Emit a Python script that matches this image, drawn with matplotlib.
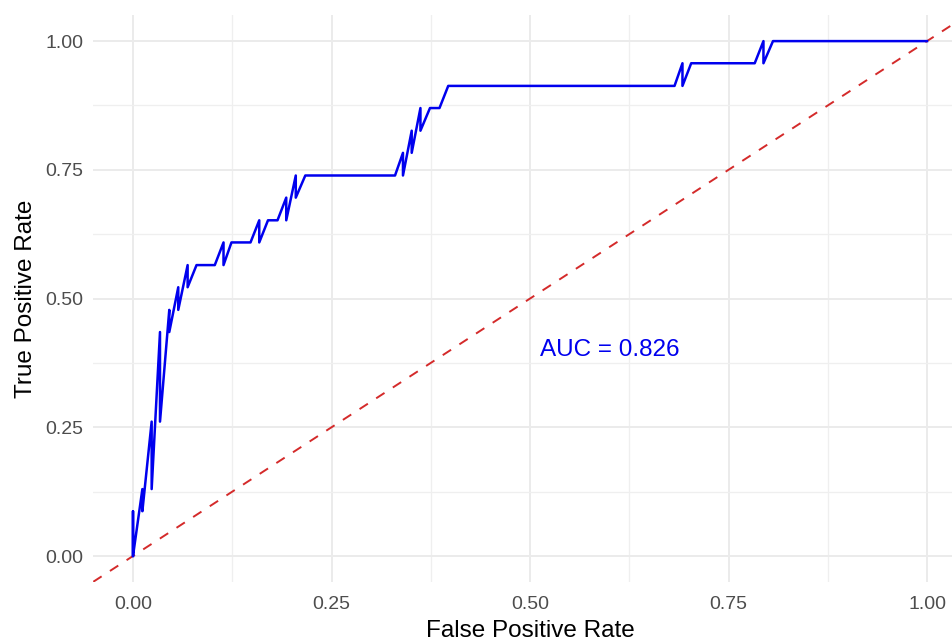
import matplotlib.pyplot as plt
from matplotlib.ticker import MultipleLocator

plt.rcParams["font.family"] = ["Liberation Sans", "DejaVu Sans"]

# ROC curve vertices, in drawing order
fpr = [0.0, 0.0, 0.0, 0.0118, 0.0118, 0.0235, 0.0235, 0.034, 0.034,
       0.0457, 0.0457, 0.057, 0.057, 0.0688, 0.0688, 0.080, 0.103, 0.114,
       0.114, 0.124, 0.148, 0.159, 0.159, 0.170, 0.182, 0.193, 0.193,
       0.205, 0.205, 0.217, 0.330, 0.340, 0.340, 0.351, 0.351, 0.362,
       0.362, 0.374, 0.386, 0.397, 0.682, 0.692, 0.692, 0.703, 0.783,
       0.794, 0.794, 0.806, 1.0]
tpr = [0.0, 0.087, 0.0, 0.130, 0.087, 0.261, 0.130, 0.435, 0.261,
       0.478, 0.435, 0.522, 0.478, 0.565, 0.522, 0.565, 0.565, 0.609,
       0.565, 0.609, 0.609, 0.652, 0.609, 0.652, 0.652, 0.696, 0.652,
       0.739, 0.696, 0.739, 0.739, 0.783, 0.739, 0.826, 0.783, 0.870,
       0.826, 0.870, 0.870, 0.913, 0.913, 0.957, 0.913, 0.957, 0.957,
       1.0, 0.957, 1.0, 1.0]
auc = 0.826

fig = plt.figure(figsize=(9.53, 6.4), dpi=100)
ax = fig.add_axes([0.0979, 0.091, 0.9165, 0.885])

ax.plot(fpr, tpr, color="#0000EE", lw=1.8, zorder=3)
ax.axline((0, 0), slope=1, color="#D42A2A", lw=1.4, dashes=(5.1, 5.1), zorder=2)
ax.text(0.6, 0.4, f"AUC = {auc:.3f}", color="#0000EE", fontsize=17.5,
        ha="center", va="center")

ax.set_xlim(-0.05, 1.05)
ax.set_ylim(-0.05, 1.05)
ax.xaxis.set_major_locator(MultipleLocator(0.25))
ax.yaxis.set_major_locator(MultipleLocator(0.25))
ax.xaxis.set_minor_locator(MultipleLocator(0.125))
ax.yaxis.set_minor_locator(MultipleLocator(0.125))
ax.xaxis.set_major_formatter(lambda v, p: f"{v:.2f}")
ax.yaxis.set_major_formatter(lambda v, p: f"{v:.2f}")

ax.grid(which="major", color="#EBEBEB", lw=1.4)
ax.grid(which="minor", color="#EFEFEF", lw=0.9)
ax.set_axisbelow(True)
for s in ax.spines.values():
    s.set_visible(False)
ax.tick_params(which="both", length=0)
ax.tick_params(axis="x", labelsize=14, labelcolor="#4D4D4D", pad=10)
ax.tick_params(axis="y", labelsize=14, labelcolor="#4D4D4D", pad=7)

ax.set_xlabel("False Positive Rate", fontsize=17.5, labelpad=5)
ax.set_ylabel("True Positive Rate", fontsize=17.5, labelpad=6)

fig.savefig("out.png", dpi=100)
